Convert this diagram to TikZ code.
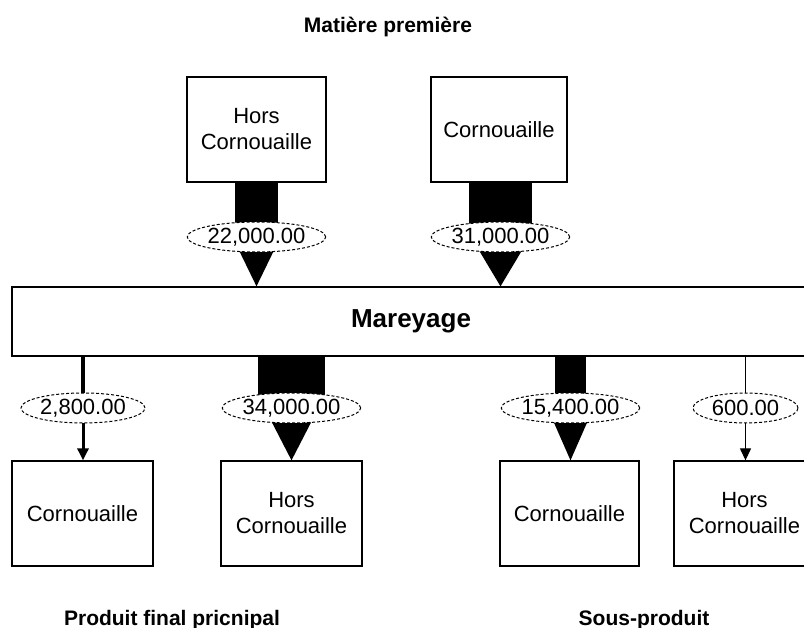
\documentclass[tikz,border=0pt]{standalone}
\usepackage{fontspec}
\setmainfont{Liberation Sans}
\usetikzlibrary{shapes.geometric,arrows.meta,calc}

\tikzset{
  stockbox/.style={draw, line width=1.3pt, fill=white, inner sep=0pt,
    minimum width=140pt, minimum height=105pt, align=center,
    font=\fontsize{22}{26}\selectfont},
  qty/.style={ellipse, draw, dashed, dash pattern=on 3pt off 2pt, line width=1pt,
    fill=white, inner sep=0pt, minimum height=30pt,
    font=\fontsize{22}{26}\selectfont},
  caption/.style={anchor=base, font=\bfseries\fontsize{21}{25}\selectfont},
  thinflow/.style={draw, line width=3.5pt},
  thinhead/.style={-{Triangle[width=11pt,length=12pt]}},
}

\begin{document}
\begin{tikzpicture}[x=1pt, y=-1pt]
\useasboundingbox (0,0) rectangle (804,628);
\clip (0,0) rectangle (804,628);

% raw material sources
\node[stockbox, minimum width=139pt] (src1) at (256.5,129.5) {Hors\\Cornouaille};
\node[stockbox, minimum width=136pt] (src2) at (499,129.5) {Cornouaille};

% central process
\node[draw, line width=1.3pt, fill=white, minimum width=798pt, minimum height=69pt,
      inner sep=0pt, font=\bfseries\fontsize{26}{30}\selectfont]
      (mar) at (411,321.5) {Mareyage};

% destinations
\node[stockbox, minimum width=141pt] (dst1) at (82.5,513.5) {Cornouaille};
\node[stockbox, minimum width=141pt] (dst2) at (291.5,513.5) {Hors\\Cornouaille};
\node[stockbox, minimum width=139pt] (dst3) at (569.5,513.5) {Cornouaille};
\node[stockbox, minimum width=141pt] (dst4) at (744.5,513.5) {Hors\\Cornouaille};

% quantity labels
\coordinate (q1) at (256.5,237);
\coordinate (q2) at (500.5,237);
\coordinate (q3) at (83,408);
\coordinate (q4) at (291.5,408);
\coordinate (q5) at (570.5,408);
\coordinate (q6) at (745.5,408);

% wide flows: shaft into the label, head out of it
\fill ($(q1 |- src1.south)+(-21.5,0)$) rectangle ($(q1)+(21.5,0)$);
\fill ($(q1)+(-24,0)$) -- ($(q1)+(24,0)$) -- (q1 |- mar.north) -- cycle;

\fill ($(q2 |- src2.south)+(-31.5,0)$) rectangle ($(q2)+(31.5,0)$);
\fill ($(q2)+(-29.5,0)$) -- ($(q2)+(29.5,0)$) -- (q2 |- mar.north) -- cycle;

\fill ($(q4 |- mar.south)+(-33.5,0)$) rectangle ($(q4)+(33.5,0)$);
\fill ($(q4)+(-27,0)$) -- ($(q4)+(27,0)$) -- (q4 |- dst2.north) -- cycle;

\fill ($(q5 |- mar.south)+(-15.5,0)$) rectangle ($(q5)+(15.5,0)$);
\fill ($(q5)+(-23,0)$) -- ($(q5)+(23,0)$) -- (q5 |- dst3.north) -- cycle;

% narrow flows
\draw[thinflow] (q3 |- mar.south) -- (q3);
\draw[thinflow, line width=3pt, thinhead] (q3) -- (q3 |- dst1.north);
\draw[line width=1.2pt] (q6 |- mar.south) -- (q6);
\draw[line width=1.2pt, thinhead] (q6) -- (q6 |- dst4.north);

\node[qty, minimum width=138pt] (v1) at (q1) {22,000.00};
\node[qty, minimum width=136pt] (v2) at (q2) {31,000.00};
\node[qty, minimum width=124pt] (v3) at (q3) {2,800.00};
\node[qty, minimum width=138pt] (v4) at (q4) {34,000.00};
\node[qty, minimum width=137pt] (v5) at (q5) {15,400.00};
\node[qty, minimum width=105pt] (v6) at (q6) {600.00};

% captions
\node[caption] (t1) at (388,33) {Matière première};
\node[caption] (t2) at (172,625) {Produit final pricnipal};
\node[caption] (t3) at (644,625) {Sous-produit};
\end{tikzpicture}
\end{document}
